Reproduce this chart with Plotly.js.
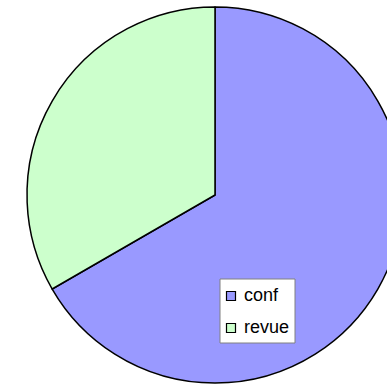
<!DOCTYPE html>
<html><head><meta charset="utf-8">
<script src="https://cdn.plot.ly/plotly-3.0.1.min.js"></script>
<style>html,body{margin:0;padding:0;overflow:hidden;background:#fff}#chart{width:430px;height:384px}</style>
</head><body><div id="chart"></div>
<script>
var labels = ["conf", "revue"];
var values = [2, 1];
var colors = ["#9999FF", "#CCFFCC"];

var W = 430, H = 384;
function px(x){return x / W;}
function py(y){return 1 - y / H;}

var shapes = [{type:"rect", xref:"paper", yref:"paper", x0:px(220), x1:px(295), y0:py(343), y1:py(279),
  line:{color:"#808080", width:1}, fillcolor:"#ffffff", layer:"above"}];
var annotations = [];
labels.forEach(function(l, i){
  var cy = 296 + i * 32;
  shapes.push({type:"rect", xref:"paper", yref:"paper", x0:px(226.5), x1:px(235.5), y0:py(cy+4.5), y1:py(cy-4.5),
    line:{color:"#000000", width:1.2}, fillcolor:colors[i], layer:"above"});
  annotations.push({xref:"paper", yref:"paper", x:px(242), y:py(cy-1), xanchor:"left", yanchor:"middle",
    text:l, showarrow:false, font:{family:"Liberation Sans, Arial, sans-serif", size:18, color:"#000"}});
});

var data = [{
  type:"pie", labels:labels, values:values, sort:false, direction:"clockwise", rotation:0,
  marker:{colors:colors, line:{color:"#000000", width:1.5}},
  textinfo:"none", hoverinfo:"label+value", showlegend:false,
  domain:{x:[px(27), px(403)], y:[py(383), py(7)]}
}];
var layout = {width:W, height:H, margin:{l:0,r:0,t:0,b:0}, paper_bgcolor:"#fff", showlegend:false,
  shapes:shapes, annotations:annotations};
Plotly.newPlot("chart", data, layout, {staticPlot:true});
</script></body></html>
